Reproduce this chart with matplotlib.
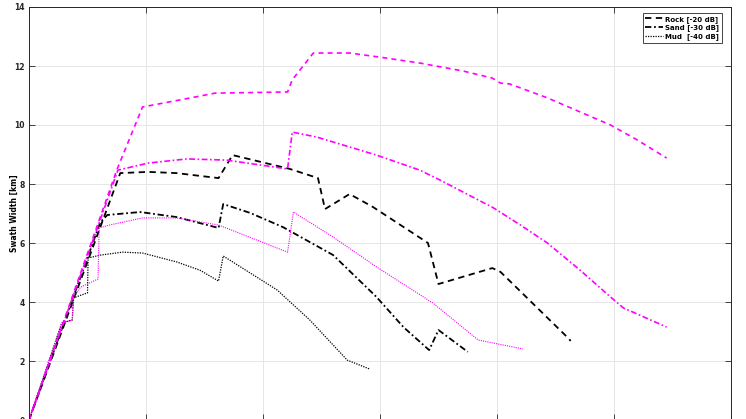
import matplotlib
matplotlib.use("Agg")
import matplotlib.pyplot as plt

# ---- data ----
rock_black_x = [0, 0.78, 1.02, 1.26, 1.62, 1.74, 2.23, 2.47, 2.53, 2.74, 2.94, 3.41, 3.50, 3.96, 4.03, 4.60, 4.63]
rock_black_y = [0, 8.37, 8.41, 8.37, 8.20, 8.98, 8.51, 8.20, 7.15, 7.66, 7.22, 6.00, 4.61, 5.15, 5.02, 2.81, 2.68]

sand_black_x = [0, 0.61, 0.67, 0.95, 1.26, 1.62, 1.66, 1.89, 2.17, 2.60, 2.97, 3.20, 3.42, 3.50, 3.75]
sand_black_y = [0, 6.71, 6.95, 7.05, 6.88, 6.51, 7.32, 7.02, 6.54, 5.59, 4.17, 3.15, 2.37, 3.05, 2.31]

mud_black_x = [0, 0.28, 0.37, 0.38, 0.50, 0.505, 0.61, 0.80, 0.97, 1.26, 1.46, 1.62, 1.66, 2.12, 2.40, 2.72, 2.91]
mud_black_y = [0, 3.29, 3.39, 4.14, 4.31, 5.49, 5.59, 5.69, 5.66, 5.36, 5.08, 4.71, 5.56, 4.41, 3.39, 2.03, 1.73]

rock_mag_x = [0, 0.75, 0.97, 1.29, 1.59, 2.21, 2.25, 2.43, 2.74, 3.00, 3.34, 3.71, 3.96, 4.03, 4.11, 4.43, 4.97, 5.20, 5.45]
rock_mag_y = [0, 8.47, 10.61, 10.85, 11.08, 11.12, 11.53, 12.44, 12.44, 12.30, 12.10, 11.83, 11.59, 11.42, 11.39, 10.92, 10.00, 9.49, 8.88]

sand_mag_x = [0, 0.76, 1.02, 1.35, 1.69, 2.21, 2.25, 2.46, 2.97, 3.34, 3.51, 3.97, 4.20, 4.43, 4.71, 4.97, 5.08, 5.45]
sand_mag_y = [0, 8.47, 8.71, 8.85, 8.81, 8.51, 9.76, 9.59, 8.98, 8.47, 8.14, 7.19, 6.61, 6.00, 5.08, 4.17, 3.80, 3.15]

mud_mag_x = [0, 0.28, 0.37, 0.38, 0.44, 0.59, 0.60, 0.69, 0.97, 1.26, 1.62, 2.21, 2.26, 2.60, 2.97, 3.45, 3.84, 4.22]
mud_mag_y = [0, 3.29, 3.39, 4.14, 4.50, 4.78, 6.51, 6.61, 6.85, 6.85, 6.61, 5.69, 7.05, 6.20, 5.19, 3.97, 2.71, 2.41]

legend_labels = ["Rock [-20 dB]", "Sand [-30 dB]", "Mud  [-40 dB]"]
y_ticks = [0, 2, 4, 6, 8, 10, 12, 14]
x_ticks = [0, 1, 2, 3, 4, 5, 6]

# ---- figure ----
W, H = 746, 419
fig = plt.figure(figsize=(W / 100, H / 100), dpi=100)
ax = fig.add_axes([29 / W, -1 / H, (731 - 29) / W, (420 - 7) / H])

MAG = (1.0, 0.0, 1.0)
l1, = ax.plot(rock_black_x, rock_black_y, color="black", lw=1.3, linestyle=(0, (3.5, 2.5)))
l2, = ax.plot(sand_black_x, sand_black_y, color="black", lw=1.3, linestyle=(0, (3.5, 1.5, 1, 1.5)))
l3, = ax.plot(mud_black_x, mud_black_y, color="black", lw=0.9, linestyle=(0, (1, 1)))
ax.plot(rock_mag_x, rock_mag_y, color=MAG, lw=1.2, linestyle=(0, (3, 2.5)))
ax.plot(sand_mag_x, sand_mag_y, color=MAG, lw=1.2, linestyle=(0, (3.5, 1.5, 1, 1.5)))
ax.plot(mud_mag_x, mud_mag_y, color=MAG, lw=0.8, linestyle=(0, (1, 1)))

ax.set_xlim(0, 6)
ax.set_ylim(0, 14)
ax.set_xticks(x_ticks)
ax.set_yticks(y_ticks)
ax.set_xticklabels([])
ax.set_yticklabels([str(t) for t in y_ticks], fontsize=5.5, fontweight="bold")
ax.tick_params(direction="in", length=4, width=0.6, top=True, right=True, pad=3, colors="#262626")
ax.grid(True, color="#e6e6e6", lw=0.7)
ax.set_axisbelow(True)
for s in ax.spines.values():
    s.set_color("#262626")
    s.set_linewidth(0.7)

ax.set_ylabel("Swath Width [km]", fontsize=5.5, fontweight="bold")
ax.yaxis.set_label_coords(-0.015, 0.5)

leg = ax.legend([l1, l2, l3], legend_labels, loc="upper right",
                prop={"weight": "bold", "size": 5}, handlelength=2.6, handletextpad=0.3,
                borderpad=0.35, labelspacing=0.25, fancybox=False, framealpha=1,
                edgecolor="#262626", bbox_to_anchor=(0.992, 0.993))
leg.get_frame().set_linewidth(0.6)

fig.savefig("out.png", dpi=100)
